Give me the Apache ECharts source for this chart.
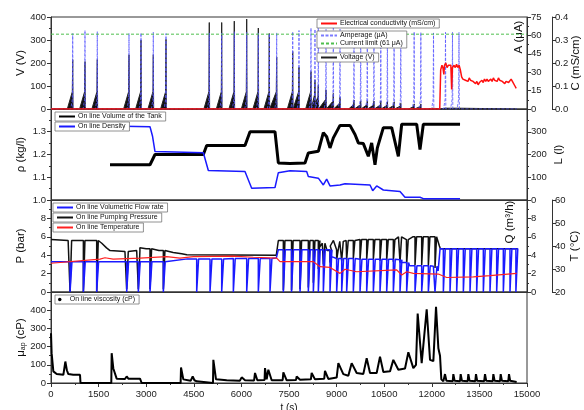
<!DOCTYPE html>
<html><head><meta charset="utf-8">
<script src="https://cdn.jsdelivr.net/npm/echarts@6/dist/echarts.min.js"></script>
<style>html,body{margin:0;padding:0;background:#fff}#c{width:584px;height:410px}</style>
</head><body><div id="c"></div>
<script>
// ---------- DATA ----------
// Panel 1 : voltage / amperage spikes (t in s)
const voltSpikeT = [684,1071,1459,2458,2836,3224,3624,4988,5379,5776,6167,6533,6879,7112,7617,7815,8193,8319,8424,8667,8897,9108,9549,9760,9968,10178,10393,10601,10812,11023,11444,11655,12054,12432,12652,12857];
const voltSpikeV = [215,206,215,236,300,236,303,376,376,382,391,352,328,227,250,182,163,127,105,83,68,51,39,36,36,35,35,32,31,25,22,22,7,7,7,7];
const ampSpikeT = [684,1071,1459,2458,2836,3224,3624,4988,5379,5776,6167,6533,6879,7112,7617,7815,8193,8319,8424,8667,8897,9108,9549,9760,9968,10178,10393,10601,10812,11023,11444,11655,12054,12432,12652,12857];
const ampSpikeA = [61.5,64,63,61.5,62,62.5,61.5,62,62,63,62.5,62,61.5,62,63,64,66,65,66,65,66,65,63,63,62.5,63,63,62.5,62.5,62,63,62.5,62,62.5,62.5,62.5];
const currentLimit = [[0,61],[15000,61]];
const conductivity = [[0,0],[12250,0],[12280,0.17],[12320,0.19],[12350,0.18],[12380,0.15],[12400,0.19],[12440,0.2],[12480,0.18],[12520,0.19],[12560,0.185],[12600,0.19],[12626,0.085],[12650,0.18],[12700,0.19],[12740,0.18],[12780,0.195],[12820,0.18],[12860,0.19],[12900,0.17],[12940,0.14],[12980,0.13],[13020,0.135],[13060,0.125],[13100,0.13],[13140,0.12],[13180,0.135],[13220,0.125],[13260,0.13],[13300,0.12],[13340,0.125],[13380,0.11],[13420,0.12],[13460,0.105],[13500,0.115],[13540,0.11],[13580,0.125],[13620,0.115],[13660,0.13],[13700,0.12],[13740,0.13],[13780,0.12],[13820,0.125],[13860,0.13],[13900,0.12],[13940,0.135],[13980,0.125],[14020,0.13],[14060,0.12],[14100,0.135],[14140,0.125],[14180,0.13],[14220,0.12],[14260,0.125],[14300,0.11],[14340,0.12],[14380,0.125],[14420,0.115],[14460,0.12],[14500,0.13],[14540,0.12],[14580,0.125],[14620,0.1],[14660,0.09]];
const voltEndT = 14680;

// Panel 2 : tank volume (l) and density (kg/l)
const volume = [[1859,155],[3120,155],[3277,200],[4801,200],[4906,240],[6113,240],[6271,300],[7059,300],[7164,163],[7532,160],[8004,163],[8109,207],[8424,214],[8582,296],[8687,278],[8792,229],[8897,273],[9107,328],[9422,328],[9580,288],[9685,251],[9843,248],[10000,192],[10105,251],[10210,155],[10284,229],[10473,318],[10736,318],[10946,192],[11051,333],[11524,333],[11628,222],[11733,333],[12890,333]];
const density = [[1859,1.325],[3120,1.322],[3200,1.28],[3277,1.213],[4801,1.208],[4958,1.13],[6113,1.125],[6324,1.052],[7059,1.055],[7164,1.12],[7532,1.129],[8057,1.125],[8109,1.103],[8424,1.096],[8582,1.066],[8687,1.092],[8792,1.062],[9107,1.066],[9265,1.071],[10053,1.066],[10137,1.041],[10263,1.062],[10473,1.044],[10998,1.037],[11155,1.012],[11628,1.012],[11733,1.006],[12890,1.006]];

// Panel 3 : pumping pressure (bar), flow rate (m3/h), temperature (°C)
const pressureLevels = [[0,5.7],[540,5.6],[1540,5.6],[1600,5.3],[1750,4.8],[1860,4.5],[2330,4.4],[2700,4.5],[2800,4.8],[3000,4.7],[3400,4.5],[3650,4.65],[3850,4.3],[4120,4.15],[4280,4.05],[7100,4.0],[7164,5.6],[8300,5.6],[8450,4.8],[8550,5.3],[8700,4.5],[8800,5.0],[8900,5.6],[9000,4.6],[9100,5.5],[9300,5.6],[9630,5.7],[10800,5.8],[10950,6.0],[11200,5.7],[11400,6.0],[12150,6.0],[12240,5.0],[12270,4.7],[14680,4.7]];
const pressureDips = [[600,0],[1020,0],[1440,0],[2385,0.3],[2752,0.3],[3120,0.3],[3540,0.3],[7322,0.2],[7580,0.2],[7847,0.3],[8109,0.5],[8267,1],[8424,2.5],[8582,3],[8792,3.2],[9002,3.5],[9160,3.4],[9317,3.5],[9527,3.6],[9738,3.5],[9948,3.5],[10158,3.5],[10368,3.4],[10578,3.4],[10788,3.3],[10998,3.2],[11208,3.0],[11471,2.9],[11681,2.9],[11891,2.8],[12101,2.6]];
const flowLevels = [[0,3.3],[1540,3.3],[2300,3.3],[3600,3.5],[4300,3.6],[5500,3.65],[7100,3.7],[7164,4.6],[8600,4.6],[8800,3.9],[9000,3.65],[9600,3.55],[10900,3.5],[11000,3.2],[11300,2.85],[12050,2.8],[12200,2.3],[12260,4.7],[14680,4.7]];
const flowDipT = [600,1020,1440,2385,2752,3120,3540,4591,5011,5379,5746,6167,6533,6901,7322,7580,7847,8109,8267,8424,8582,8792,9002,9160,9317,9527,9738,9948,10158,10368,10578,10788,10998,11208,11471,11681,11891,12101,12364,12574,12784,12994,13204,13414,13624,13834,14044,14254,14464,14650];
const temperature = [[0,32.5],[1544,34.3],[1700,34.9],[1754,34.7],[1960,34.3],[2805,34.7],[3645,35.4],[4065,34.7],[4486,35.4],[5746,35.6],[6376,35.1],[7112,34.7],[7217,33.2],[7847,33.2],[8267,33.2],[8477,31.0],[8792,30.7],[9107,28.1],[9265,29.9],[9633,28.8],[10894,29.6],[11051,27.4],[11208,28.8],[11418,28.1],[12207,27.8],[12469,26.3],[13309,26.6],[13834,27.1],[14674,28.1]];

// Panel 4 : viscosity (cP)
const viscosity = [[0,273],[20,164],[74,64],[179,49],[389,45],[452,118],[500,70],[546,49],[700,45],[914,45],[930,0],[1900,0],[1912,164],[1964,80],[2069,24],[2330,22],[2385,36],[2437,24],[2805,24],[2857,0],[4085,0],[4097,85],[4170,20],[4400,12],[4465,36],[4520,15],[4591,9],[4643,0],[5105,0],[5116,127],[5200,20],[5536,15],[5950,12],[6009,31],[6114,15],[6400,14],[6429,55],[6502,15],[6730,16],[6744,82],[6796,20],[6849,73],[6954,15],[7300,15],[7322,58],[7427,15],[7720,16],[7742,36],[7847,18],[8190,20],[8214,55],[8319,20],[8610,24],[8634,67],[8739,22],[9002,30],[9055,109],[9212,49],[9370,40],[9475,109],[9633,55],[9843,50],[9948,136],[10053,55],[10263,55],[10368,145],[10473,60],[10683,64],[10788,127],[10946,73],[11156,80],[11261,169],[11418,82],[11502,100],[11555,382],[11681,109],[11733,100],[11839,405],[11944,127],[12049,120],[12133,418],[12207,191],[12259,150],[12300,20],[12364,9],[12400,10],[12416,49],[12460,12],[12660,10],[12679,49],[12720,12],[12890,10],[12910,49],[12950,12],[13130,10],[13152,49],[13190,12],[13370,10],[13393,49],[13430,12],[13650,10],[13677,49],[13715,12],[13920,10],[13940,49],[13980,12],[14150,10],[14171,49],[14210,12],[14410,10],[14433,49],[14470,12],[14674,5]];

// ---------- helpers building line vertices from the arrays ----------
function spikes(times, peaks, baseW, rampH, endT) {
  const d = [[0, 0]];
  times.forEach((t, i) => {
    const p = peaks[i], r = Math.min(rampH, p * 0.5);
    d.push([t - baseW, 0], [t - 12, r], [t, p], [t + 10, 0]);
  });
  d.push([endT, 0]);
  return d;
}
function withDips(levels, dips, w) {
  const groups = levels.map(p => ({t: p[0], pts: [[p[0], p[1]]]}));
  dips.forEach(([td, depth]) => {
    let lvl = levels[0][1];
    levels.forEach(p => { if (p[0] <= td) lvl = p[1]; });
    groups.push({t: td, pts: [[td, lvl], [td, depth], [td + w, depth], [td + w, lvl]]});
  });
  groups.sort((a, b) => a.t - b.t);
  return groups.flatMap(g => g.pts);
}

const FONT = 'Liberation Sans';
const lab = {fontFamily: FONT, fontSize: 9.5, color: '#222'};
const nameStyle = {fontFamily: FONT, fontSize: 11.5, color: '#111'};
const grids = [
  {left: 51, right: 57, top: 17, height: 92},
  {left: 51, right: 57, top: 109, height: 91},
  {left: 51, right: 57, top: 200, height: 92},
  {left: 51, right: 57, top: 292, height: 91}
].map(g => Object.assign(g, {show: true, borderColor: '#333', borderWidth: 1, outerBoundsMode: 'none', containLabel: false}));

function xa(i, bottom) {
  return {
    type: 'value', gridIndex: i, min: 0, max: 15000, interval: 1500,
    axisLine: {show: true, onZero: false, lineStyle: {color: '#333'}},
    axisTick: {show: bottom, length: 4, lineStyle: {color: '#333'}},
    minorTick: {show: bottom, splitNumber: 2, length: 2, lineStyle: {color: '#333'}},
    axisLabel: Object.assign({show: bottom, margin: 6, formatter: v => String(v)}, lab),
    splitLine: {show: false},
    name: bottom ? 't (s)' : '', nameLocation: 'middle', nameGap: 20,
    nameTextStyle: {fontFamily: FONT, fontSize: 10, color: '#111'}
  };
}
function ya(o) {
  const base = {
    type: 'value', splitLine: {show: false},
    axisLine: {show: true, onZero: false, lineStyle: {color: '#333'}},
    axisTick: {show: true, length: 4, lineStyle: {color: '#333'}},
    minorTick: {show: true, splitNumber: 2, length: 2, lineStyle: {color: '#333'}},
    axisLabel: Object.assign({margin: 5}, lab),
    nameLocation: 'middle', nameRotate: 90, nameTextStyle: nameStyle, nameMoveOverlap: false
  };
  const r = Object.assign(base, o);
  if (o.axisLabelExtra) { Object.assign(r.axisLabel, o.axisLabelExtra); delete r.axisLabelExtra; }
  return r;
}
const fix1 = v => v.toFixed(1);

function mkLegend(names, left, top) {
  return {
    data: names, left: left, top: top, orient: 'vertical', selectedMode: false,
    padding: [1, 4, 1, 3], itemGap: 1, itemWidth: 16, itemHeight: 6,
    itemStyle: {opacity: 0},
    borderColor: '#777', borderWidth: 0.8, backgroundColor: '#fff',
    textStyle: {fontFamily: FONT, fontSize: 7, color: '#111', padding: [0, 0, 0, -2]}
  };
}

const option = {
  animation: false,
  backgroundColor: '#fff',
  grid: grids,
  xAxis: [xa(0, false), xa(1, false), xa(2, false), xa(3, true)],
  yAxis: [
    ya({gridIndex: 0, position: 'left', min: 0, max: 400, interval: 100, name: 'V (V)', nameGap: 24}),
    ya({gridIndex: 0, position: 'right', min: 0, max: 75, interval: 15, axisLabelExtra: {margin: 4}}),
    ya({gridIndex: 0, position: 'right', offset: 25, min: 0, max: 0.4, interval: 0.1, name: 'C (mS/cm)', nameGap: 18, minorTick: {show: false}, axisLabelExtra: {formatter: fix1, margin: 3}}),
    ya({gridIndex: 1, position: 'left', min: 1.0, max: 1.4, interval: 0.1, name: 'ρ (kg/l)', nameGap: 24, axisLabelExtra: {formatter: fix1, showMaxLabel: false}}),
    ya({gridIndex: 1, position: 'right', min: 0, max: 400, interval: 100, name: 'L (l)', nameGap: 26, axisLabelExtra: {showMaxLabel: false, margin: 4}}),
    ya({gridIndex: 2, position: 'left', min: 0, max: 10, interval: 2, name: 'P (bar)', nameGap: 24, axisLabelExtra: {showMaxLabel: false}}),
    ya({gridIndex: 2, position: 'right', min: 0, max: 10, interval: 2, axisLabelExtra: {showMaxLabel: false, margin: 4}}),
    ya({gridIndex: 2, position: 'right', offset: 25, min: 20, max: 60, interval: 10, name: 'T (°C)', nameGap: 17, minorTick: {show: false}, axisLabelExtra: {margin: 3}}),
    ya({gridIndex: 3, position: 'left', min: 0, max: 500, interval: 100, nameGap: 24,
        name: '{m|μ}{s|ap}{m| (cP)}',
        nameTextStyle: {fontFamily: FONT, fontSize: 11.5, color: '#111', rich: {m: {fontFamily: FONT, fontSize: 11.5}, s: {fontFamily: FONT, fontSize: 7, verticalAlign: 'bottom', padding: [4, 0, 0, 0]}}},
        axisLabelExtra: {showMaxLabel: false}})
  ],
  legend: [
    mkLegend(['Electrical conductivity (mS/cm)'], 317, 19),
    mkLegend(['Amperage (μA)', 'Current limit (61 μA)'], 317, 31),
    mkLegend(['Voltage (V)'], 317, 53),
    mkLegend(['On line Volume of the Tank'], 55, 112),
    mkLegend(['On line Density'], 55, 122),
    mkLegend(['On line Volumetric Flow rate'], 53, 203),
    mkLegend(['On line Pumping Pressure'], 53, 213),
    mkLegend(['On line Temperature'], 53, 223),
    Object.assign(mkLegend(['On line viscosity (cP)'], 55, 295), {icon: 'circle', itemWidth: 14, itemHeight: 3.5, itemStyle: {opacity: 1}})
  ],
  graphic: [
    {type: 'text', x: 519, y: 37, rotation: Math.PI / 2, style: {text: 'A (μA)', fontFamily: FONT, fontSize: 11.5, fill: '#111', align: 'center', verticalAlign: 'middle'}},
    {type: 'text', x: 510, y: 222, rotation: Math.PI / 2, style: {text: 'Q (m³/h)', fontFamily: FONT, fontSize: 11.5, fill: '#111', align: 'center', verticalAlign: 'middle'}}
  ],
  series: [
    {name: 'Voltage (V)', type: 'line', xAxisIndex: 0, yAxisIndex: 0, data: spikes(voltSpikeT, voltSpikeV, 170, 75, voltEndT), symbol: 'none', lineStyle: {color: '#222', width: 1}, itemStyle: {color: '#333'}, areaStyle: {color: '#111', opacity: 1}},
    {name: 'Amperage (μA)', type: 'line', xAxisIndex: 0, yAxisIndex: 1, data: spikes(ampSpikeT, ampSpikeA, 60, 8, voltEndT), symbol: 'none', lineStyle: {color: '#5a5aff', width: 1, type: [3, 1.5], opacity: 0.8}, itemStyle: {color: '#5a5aff'}},
    {name: 'Current limit (61 μA)', type: 'line', xAxisIndex: 0, yAxisIndex: 1, data: currentLimit, symbol: 'none', lineStyle: {color: '#4fbf4f', width: 1, type: [3, 2]}, itemStyle: {color: '#4fbf4f'}},
    {name: 'Electrical conductivity (mS/cm)', type: 'line', xAxisIndex: 0, yAxisIndex: 2, data: conductivity, symbol: 'none', lineStyle: {color: '#ff1010', width: 1.5}, itemStyle: {color: '#ff1010'}},
    {name: 'On line Volume of the Tank', type: 'line', xAxisIndex: 1, yAxisIndex: 4, data: volume, symbol: 'none', lineStyle: {color: '#000', width: 3}, itemStyle: {color: '#000'}},
    {name: 'On line Density', type: 'line', xAxisIndex: 1, yAxisIndex: 3, data: density, symbol: 'none', lineStyle: {color: '#1a1aff', width: 1.5}, itemStyle: {color: '#1a1aff'}},
    {name: 'On line Pumping Pressure', type: 'line', xAxisIndex: 2, yAxisIndex: 5, data: withDips(pressureLevels, pressureDips, 50), symbol: 'none', lineStyle: {color: '#111', width: 1.5}, itemStyle: {color: '#444'}},
    {name: 'On line Volumetric Flow rate', type: 'line', xAxisIndex: 2, yAxisIndex: 6, data: withDips(flowLevels, flowDipT.map(t => [t, 0]), 60), symbol: 'none', lineStyle: {color: '#1a1aff', width: 1.5}, itemStyle: {color: '#4a4aff'}},
    {name: 'On line Temperature', type: 'line', xAxisIndex: 2, yAxisIndex: 7, data: temperature, symbol: 'none', lineStyle: {color: '#ff2020', width: 1.2}, itemStyle: {color: '#ff2020'}},
    {name: 'On line viscosity (cP)', type: 'line', xAxisIndex: 3, yAxisIndex: 8, data: viscosity, symbol: 'none', lineStyle: {color: '#000', width: 2}, itemStyle: {color: '#000'}}
  ]
};
const chart = echarts.init(document.getElementById('c'), null, {renderer: 'canvas'});
chart.setOption(option);
</script></body></html>
